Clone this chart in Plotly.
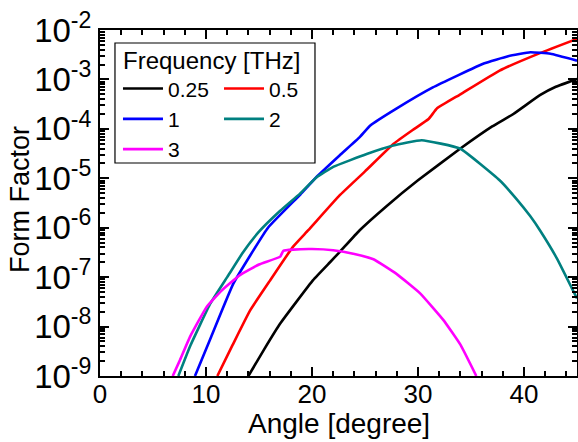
import plotly.graph_objects as go

# ---- data (angle in degrees, form factor) ----
angle_025 = [14.0, 15.5, 17.0, 20.1, 21.7, 22.6, 24.5, 27.0, 30.0, 34.0, 37.0, 39.0, 41.5, 43.0, 45.0]
ff_025 = [1.0e-9, 3.5e-9, 1.15e-8, 8.7e-8, 2.0e-7, 3.2e-7, 8.9e-7, 2.7e-6, 9.1e-6, 4.0e-5, 1.12e-4, 2.0e-4, 4.8e-4, 7.1e-4, 1.02e-3]

angle_05 = [11.07, 12.5, 14.15, 16.0, 18.2, 19.65, 22.6, 25.0, 27.7, 29.5, 31.0, 31.8, 34.0, 37.7, 41.5, 45.0]
ff_05 = [1.0e-9, 4.2e-9, 2.1e-8, 8.3e-8, 4.1e-7, 8.9e-7, 4.5e-6, 1.38e-5, 5.0e-5, 9.5e-5, 1.58e-4, 2.6e-4, 5.0e-4, 1.51e-3, 3.4e-3, 6.6e-3]

angle_1 = [8.96, 10.5, 12.58, 15.85, 18.9, 20.4, 22.6, 24.5, 25.5, 28.0, 31.4, 36.2, 38.5, 40.6, 42.5, 45.0]
ff_1 = [1.0e-9, 6.3e-9, 7.4e-8, 1.0e-6, 4.7e-6, 1.05e-5, 2.9e-5, 6.8e-5, 1.17e-4, 2.6e-4, 6.9e-4, 2.1e-3, 2.95e-3, 3.55e-3, 3.3e-3, 2.4e-3]

angle_2 = [7.39, 8.5, 10.4, 12.0, 13.5, 15.0, 17.0, 18.87, 20.44, 22.0, 25.16, 27.67, 30.35, 33.96, 37.7, 39.3, 40.6, 41.5, 43.1, 45.0]
ff_2 = [1.0e-9, 4.0e-9, 2.9e-8, 1.0e-7, 3.2e-7, 8.3e-7, 2.2e-6, 4.9e-6, 1.05e-5, 1.7e-5, 3.1e-5, 4.6e-5, 5.9e-5, 4.0e-5, 9.1e-6, 3.8e-6, 1.7e-6, 8.9e-7, 2.4e-7, 3.7e-8]

angle_3 = [6.86, 7.5, 8.49, 10.06, 11.5, 13.2, 15.0, 17.0, 17.3, 18.2, 20.0, 22.0, 24.0, 25.8, 28.0, 30.2, 32.4, 34.0, 35.5]
ff_3 = [1.0e-9, 2.0e-9, 6.2e-9, 2.5e-8, 5.4e-8, 1.1e-7, 1.8e-7, 2.6e-7, 3.4e-7, 3.6e-7, 3.7e-7, 3.5e-7, 2.95e-7, 2.3e-7, 1.15e-7, 4.7e-8, 1.35e-8, 4.3e-9, 1.0e-9]

# y tick positions and labels
y_tickvals = [1e-9, 1e-8, 1e-7, 1e-6, 1e-5, 1e-4, 1e-3, 1e-2]
y_ticktext = ["10<sup>-9</sup>", "10<sup>-8</sup>", "10<sup>-7</sup>", "10<sup>-6</sup>",
              "10<sup>-5</sup>", "10<sup>-4</sup>", "10<sup>-3</sup>", "10<sup>-2</sup>"]

x_title = "Angle [degree]"
y_title = "Form Factor"
legend_title = "Frequency [THz]"
series_names = ["0.25", "0.5", "1", "2", "3"]
series_colors = ["#000000", "#ff0000", "#0000ff", "#008080", "#ff00ff"]
series_legends = ["legend", "legend2", "legend", "legend2", "legend"]
series_x = [angle_025, angle_05, angle_1, angle_2, angle_3]
series_y = [ff_025, ff_05, ff_1, ff_2, ff_3]

FONT = "Liberation Sans, Arial, Helvetica, sans-serif"

fig = go.Figure()
for name, color, lg, xs, ys in zip(series_names, series_colors, series_legends, series_x, series_y):
    fig.add_trace(go.Scatter(
        x=xs, y=ys, mode="lines", name=name,
        line=dict(color=color, width=2.6, shape="spline", smoothing=0.35),
        legend=lg,
    ))

axis_common = dict(
    showline=True, linewidth=2, linecolor="black", mirror="allticks",
    ticks="inside", ticklen=9, tickwidth=2, tickcolor="black",
    showgrid=False, zeroline=False, automargin=False,
)

legend_common = dict(
    xanchor="left", yanchor="top", y=0.889,
    bgcolor="rgba(0,0,0,0)", borderwidth=0,
    font=dict(family=FONT, size=21), itemwidth=40, tracegroupgap=0,
)

fig.update_layout(
    width=578, height=442,
    margin=dict(l=100, r=1, t=30, b=66),
    paper_bgcolor="white", plot_bgcolor="white",
    font=dict(family=FONT, color="black"),
    xaxis=dict(
        range=[0, 45], tick0=0, dtick=10,
        minor=dict(dtick=2, ticks="inside", ticklen=5, tickwidth=1.5, tickcolor="black", showgrid=False),
        tickfont=dict(family=FONT, size=26, color="black"),
        ticklabelstandoff=-6,
        **axis_common,
    ),
    yaxis=dict(
        type="log", range=[-9, -2], tickvals=y_tickvals, ticktext=y_ticktext,
        minor=dict(dtick="D1", ticks="inside", ticklen=5, tickwidth=1.5, tickcolor="black", showgrid=False),
        tickfont=dict(family=FONT, size=33, color="black"),
        **axis_common,
    ),
    legend=dict(x=0.0377, **legend_common),
    legend2=dict(x=0.2495, **legend_common),
    shapes=[dict(
        type="rect", xref="paper", yref="paper",
        x0=0.0314, x1=0.4507, y0=0.6156, y1=0.9624,
        line=dict(color="black", width=1.2), fillcolor="rgba(0,0,0,0)",
    )],
    annotations=[
        dict(text=legend_title, xref="paper", yref="paper",
             x=0.0440, y=0.9113, xanchor="left", yanchor="middle",
             showarrow=False, font=dict(family=FONT, size=24, color="black")),
        dict(text=x_title, xref="paper", yref="paper",
             x=0.5, y=-0.0867, xanchor="center", yanchor="top",
             showarrow=False, font=dict(family=FONT, size=28, color="black")),
        dict(text=y_title, xref="paper", yref="paper", textangle=-90,
             x=-0.1677, y=0.5087, xanchor="center", yanchor="middle",
             showarrow=False, font=dict(family=FONT, size=27, color="black")),
    ],
)

fig.write_html("out.html", config={"displayModeBar": False},
               post_script="document.body.style.margin='0px';")
